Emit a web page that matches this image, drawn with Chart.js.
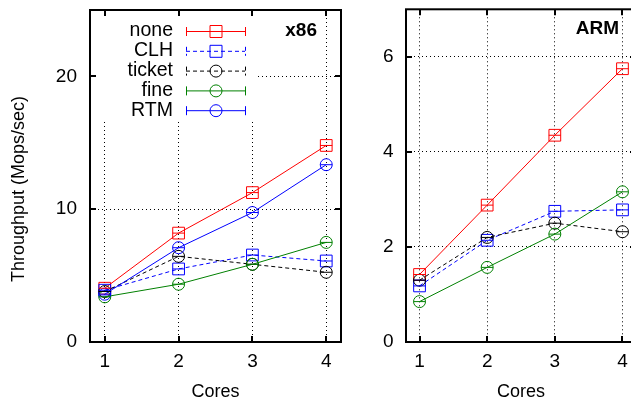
<!DOCTYPE html>
<html>
<head>
<meta charset="utf-8">
<script src="https://cdn.jsdelivr.net/npm/chart.js@4.4.0/dist/chart.umd.min.js"></script>
<style>
  html, body { margin: 0; padding: 0; background: #fff; overflow: hidden; }
  #wrap { position: relative; width: 631px; height: 401px; overflow: hidden; }
  canvas { position: absolute; top: 0; }
  #x86 { left: 0; }
  #arm { left: 320px; }
</style>
</head>
<body>
<div id="wrap">
  <canvas id="x86" width="360" height="401"></canvas>
  <canvas id="arm" width="340" height="401"></canvas>
</div>
<script>
// x axis: number of cores
const cores = [1, 2, 3, 4];

// x86 throughput (Mops/sec)
const x86None   = [4.05, 8.2, 11.25, 14.8];
const x86Clh    = [3.9, 5.5, 6.55, 6.1];
const x86Ticket = [3.8, 6.45, 5.85, 5.25];
const x86Fine   = [3.4, 4.35, 5.85, 7.5];
const x86Rtm    = [3.6, 7.1, 9.75, 13.35];

// ARM throughput (Mops/sec), no RTM here
const armNone   = [1.42, 2.88, 4.35, 5.75];
const armClh    = [1.18, 2.14, 2.75, 2.78];
const armTicket = [1.3, 2.2, 2.5, 2.32];
const armFine   = [0.85, 1.57, 2.27, 3.16];

const x86YTicks = [0, 10, 20];
const armYTicks = [0, 2, 4, 6];

Chart.defaults.font.family = '"Liberation Sans", Arial, sans-serif';
Chart.defaults.color = '#000';

const seriesStyle = {
    none:   { color: '#ff0000', dash: [],     marker: 'rect' },
    CLH:    { color: '#0000ff', dash: [4, 3], marker: 'rect' },
    ticket: { color: '#000000', dash: [4, 3], marker: 'circle' },
    fine:   { color: '#008000', dash: [],     marker: 'circle' },
    RTM:    { color: '#0000ff', dash: [],     marker: 'circle' }
};

function buildDatasets(names, seriesValues) {
    return names.map((name, i) => {
        const st = seriesStyle[name];
        return {
            label: name,
            data: seriesValues[i].map((v, j) => ({ x: cores[j], y: v })),
            borderColor: st.color,
            borderWidth: 1,
            borderDash: st.dash,
            pointStyle: st.marker,
            pointRadius: st.marker === 'rect' ? 8.3 : 6,
            pointHoverRadius: st.marker === 'rect' ? 8.3 : 6,
            pointBorderColor: st.color,
            pointBackgroundColor: 'rgba(0,0,0,0)',
            pointBorderWidth: 1,
            fill: false,
            tension: 0,
            order: -i   // later series drawn on top, like gnuplot
        };
    });
}

// gnuplot look: frame, inward ticks, error bar tics, key box
const gnuplotLook = {
    id: 'gnuplotLook',
    beforeDatasetsDraw(chart, args, opts) {
        if (!opts.keyBox) return;
        const ctx = chart.ctx, b = opts.keyBox;
        ctx.save();
        ctx.fillStyle = '#fff';
        ctx.fillRect(b.x, b.y, b.w, b.h);
        ctx.restore();
    },
    afterDatasetsDraw(chart) {
        const ctx = chart.ctx;
        ctx.save();
        ctx.lineWidth = 1;
        chart.data.datasets.forEach((ds, i) => {
            ctx.strokeStyle = ds.borderColor;
            chart.getDatasetMeta(i).data.forEach(pt => {
                ctx.beginPath();
                ctx.moveTo(pt.x - 6, pt.y);
                ctx.lineTo(pt.x + 6, pt.y);
                ctx.stroke();
            });
        });
        ctx.restore();
    },
    afterDraw(chart, args, opts) {
        const ctx = chart.ctx;
        const area = chart.chartArea;
        const xs = chart.scales.x, ys = chart.scales.y;
        ctx.save();
        ctx.strokeStyle = '#000';
        ctx.lineWidth = 2;
        ctx.beginPath();
        xs.ticks.forEach(t => {
            const px = Math.round(xs.getPixelForValue(t.value));
            ctx.moveTo(px, area.bottom); ctx.lineTo(px, area.bottom - 6);
            ctx.moveTo(px, area.top); ctx.lineTo(px, area.top + 6);
        });
        ys.ticks.forEach(t => {
            const py = Math.round(ys.getPixelForValue(t.value));
            ctx.moveTo(area.left, py); ctx.lineTo(area.left + 6, py);
            ctx.moveTo(area.right, py); ctx.lineTo(area.right - 6, py);
        });
        ctx.stroke();
        ctx.strokeRect(area.left, area.top, area.right - area.left, area.bottom - area.top);

        // panel label
        if (opts.label) {
            ctx.font = 'bold 19px "Liberation Sans", Arial, sans-serif';
            ctx.fillStyle = '#000';
            ctx.textAlign = 'right';
            ctx.textBaseline = 'middle';
            ctx.fillText(opts.label.text, opts.label.x, opts.label.y);
        }

        // y axis title
        if (opts.yTitle) {
            ctx.save();
            ctx.translate(opts.yTitle.x, opts.yTitle.y);
            ctx.rotate(-Math.PI / 2);
            ctx.font = '18px "Liberation Sans", Arial, sans-serif';
            ctx.fillStyle = '#000';
            ctx.textAlign = 'center';
            ctx.textBaseline = 'middle';
            ctx.fillText(opts.yTitle.text, 0, 0);
            ctx.restore();
        }

        // key: right aligned names, sample line with error bar caps
        if (opts.key) {
            const k = opts.key;
            ctx.font = '19.5px "Liberation Sans", Arial, sans-serif';
            ctx.textAlign = 'right';
            ctx.textBaseline = 'middle';
            chart.data.datasets.forEach((ds, i) => {
                const y = k.y0 + i * k.dy;
                const mid = (k.x0 + k.x1) / 2;
                ctx.fillStyle = '#000';
                ctx.fillText(ds.label, k.textRight, y);
                ctx.strokeStyle = ds.borderColor;
                ctx.lineWidth = 1;
                ctx.setLineDash(ds.borderDash);
                ctx.beginPath();
                ctx.moveTo(k.x0, y + 0.5); ctx.lineTo(k.x1, y + 0.5);
                ctx.stroke();
                ctx.beginPath();
                ctx.moveTo(k.x0 + 0.5, y - 4); ctx.lineTo(k.x0 + 0.5, y + 5);
                ctx.moveTo(k.x1 + 0.5, y - 4); ctx.lineTo(k.x1 + 0.5, y + 5);
                ctx.stroke();
                ctx.setLineDash([]);
                ctx.beginPath();
                if (ds.pointStyle === 'rect') {
                    ctx.rect(mid - 5.5, y - 5.5, 12, 12);
                } else {
                    ctx.arc(mid + 0.5, y + 0.5, 6, 0, Math.PI * 2);
                }
                ctx.stroke();
            });
        }
        ctx.restore();
    }
};

function scalesFor(yMax, yTicks, yWidth, yPad) {
    return {
        x: {
            type: 'linear',
            min: 0.8,
            max: 4.2,
            afterBuildTicks: s => { s.ticks = cores.map(v => ({ value: v })); },
            afterFit: s => { s.height = 59; s.paddingLeft = 0; s.paddingRight = 0; },
            grid: { color: '#000', lineWidth: 1, drawTicks: false },
            border: { display: false, dash: [1, 3] },
            ticks: { padding: 8, font: { size: 19 } },
            title: { display: true, text: 'Cores', font: { size: 18, lineHeight: 1 }, padding: 0 }
        },
        y: {
            type: 'linear',
            min: 0,
            max: yMax,
            afterBuildTicks: s => { s.ticks = yTicks.map(v => ({ value: v })); },
            afterFit: s => { s.width = yWidth; s.paddingTop = 0; s.paddingBottom = 0; },
            grid: { color: '#000', lineWidth: 1, drawTicks: false },
            border: { display: false, dash: [1, 3] },
            ticks: { padding: yPad, font: { size: 19 } }
        }
    };
}

new Chart(document.getElementById('x86').getContext('2d'), {
    type: 'line',
    data: {
        datasets: buildDatasets(['none', 'CLH', 'ticket', 'fine', 'RTM'],
            [x86None, x86Clh, x86Ticket, x86Fine, x86Rtm])
    },
    options: {
        responsive: false,
        animation: false,
        layout: { padding: { left: 0, top: 10, right: 19, bottom: 0 } },
        scales: scalesFor(25, x86YTicks, 90, 13),
        plugins: {
            legend: { display: false },
            tooltip: { enabled: false },
            gnuplotLook: {
                keyBox: { x: 91, y: 11, w: 166, h: 109 },
                key: { textRight: 173, x0: 186, x1: 245, y0: 31, dy: 19.8 },
                label: { text: 'x86', x: 317, y: 31 },
                yTitle: { text: 'Throughput (Mops/sec)', x: 19, y: 189 }
            }
        }
    },
    plugins: [gnuplotLook]
});

new Chart(document.getElementById('arm').getContext('2d'), {
    type: 'line',
    data: {
        datasets: buildDatasets(['none', 'CLH', 'ticket', 'fine'],
            [armNone, armClh, armTicket, armFine])
    },
    options: {
        responsive: false,
        animation: false,
        layout: { padding: { left: 0, top: 9, right: 24, bottom: 0 } },
        scales: scalesFor(7, armYTicks, 86, 12.5),
        plugins: {
            legend: { display: false },
            tooltip: { enabled: false },
            gnuplotLook: {
                label: { text: 'ARM', x: 299, y: 29 }
            }
        }
    },
    plugins: [gnuplotLook]
});
</script>
</body>
</html>
